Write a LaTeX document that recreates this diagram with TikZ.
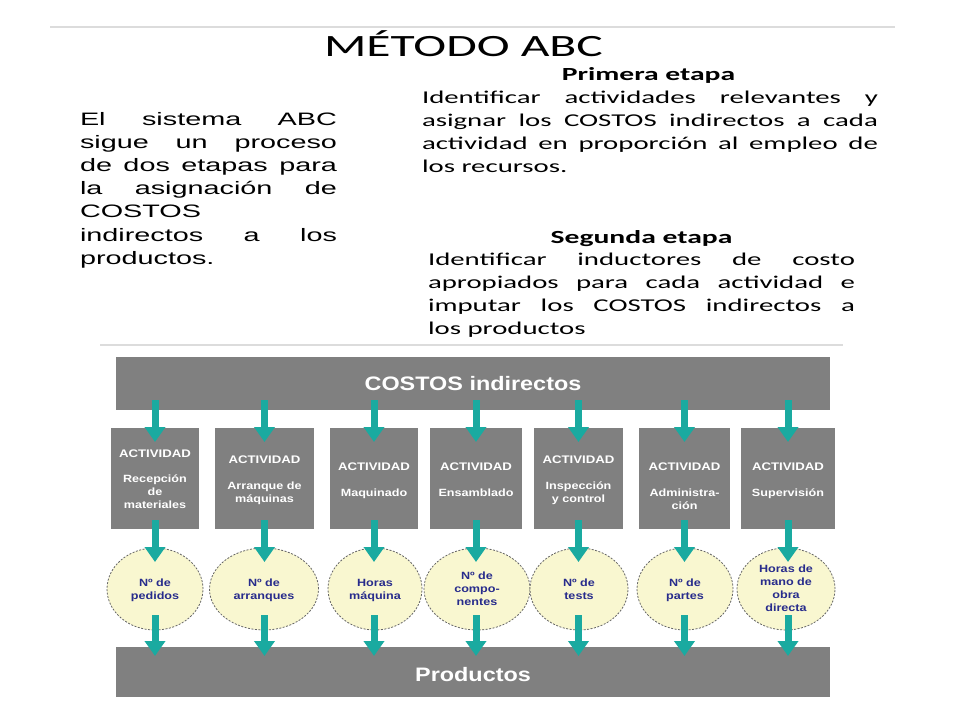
\documentclass[tikz,border=0pt]{standalone}
\usepackage{fontspec}
\usetikzlibrary{shapes.geometric,arrows.meta}
\newfontfamily\carl[FakeStretch=1.6]{Carlito}
\newfontfamily\arl[FakeStretch=1.6]{Liberation Sans}
\newfontfamily\ard[FakeStretch=1.2]{Liberation Sans}
\definecolor{tealA}{RGB}{26,170,160}
\definecolor{boxgray}{RGB}{128,128,128}
\definecolor{cream}{RGB}{249,247,208}
\definecolor{navy}{RGB}{40,44,140}
\definecolor{rulegray}{RGB}{220,220,220}
\tikzset{
  txt/.style={inner sep=0pt, outer sep=0pt},
  graybar/.style={fill=boxgray, draw=none, inner sep=0pt, outer sep=0pt, minimum width=714pt},
  bartxt/.style={txt, text=white, anchor=base, font=\ard\bfseries\fontsize{19.5}{23}\selectfont},
  actbox/.style={fill=boxgray, draw=none, inner sep=0pt, outer sep=0pt, minimum height=101pt},
  acttxt/.style={txt, text=white, anchor=base, font=\ard\bfseries\fontsize{10.5}{13}\selectfont},
  drv/.style={ellipse, fill=cream, draw=gray!80!black, dash pattern=on 2pt off 1.5pt, line width=0.8pt, minimum height=82pt, inner sep=0pt, outer sep=0pt},
  drvtxt/.style={txt, text=navy, anchor=base, font=\ard\bfseries\fontsize{10.5}{13}\selectfont},
  arr/.style={draw=tealA, line width=7pt, -{Triangle[length=15pt,width=20pt]}},
  rulel/.style={draw=rulegray, line width=2.5pt},
}
\newcommand{\actv}{{\fontsize{11}{13}\selectfont ACTIVIDAD}}
\begin{document}
\begin{tikzpicture}[x=1pt,y=-1pt]
\useasboundingbox[fill=white] (0,0) rectangle (960,720);
% top rule
\coordinate (r1a) at (50,27);
\coordinate (r1b) at (895,27);
\draw[rulel] (r1a) -- (r1b);
\node[txt, anchor=base, font=\carl\fontsize{31}{37}\selectfont] (title) at (463.5,56.7) {MÉTODO ABC};
% left paragraph
\node[txt, anchor=base west, font=\arl\fontsize{18}{23.2}\selectfont] (intro) at (80,125) {\begin{tabular}[t]{@{}l@{}}
\makebox[257pt][s]{El sistema ABC}\\
\makebox[257pt][s]{sigue un proceso}\\
\makebox[257pt][s]{de dos etapas para}\\
\makebox[257pt][s]{la asignación de}\\
COSTOS\\
\makebox[257pt][s]{indirectos a los}\\
productos.
\end{tabular}};
% primera etapa
\node[txt, anchor=base, font=\carl\bfseries\fontsize{18.5}{22}\selectfont] (et1) at (648.5,80.7) {Primera etapa};
\node[txt, anchor=base west, font=\carl\fontsize{18}{23.2}\selectfont] (p1) at (422,103.3) {\begin{tabular}[t]{@{}l@{}}
\makebox[456pt][s]{Identificar actividades relevantes y}\\
\makebox[456pt][s]{asignar los COSTOS indirectos a cada}\\
\makebox[456pt][s]{actividad en proporción al empleo de}\\
los recursos.
\end{tabular}};
% segunda etapa
\node[txt, anchor=base, font=\carl\bfseries\fontsize{18.5}{22}\selectfont] (et2) at (641.5,243) {Segunda etapa};
\node[txt, anchor=base west, font=\carl\fontsize{18}{23.3}\selectfont] (p2) at (428,265) {\begin{tabular}[t]{@{}l@{}}
\makebox[427pt][s]{Identificar inductores de costo}\\
\makebox[427pt][s]{apropiados para cada actividad e}\\
\makebox[427pt][s]{imputar los COSTOS indirectos a}\\
los productos
\end{tabular}};
% second rule
\coordinate (r2a) at (100,345);
\coordinate (r2b) at (843,345);
\draw[rulel, line width=2pt] (r2a) -- (r2b);
% bars
\node[graybar, minimum height=53pt] (costos) at (473,383.5) {};
\node[bartxt] (costosT) at ([yshift=-7.2pt]costos.center) {COSTOS indirectos};
\node[graybar, minimum height=50pt] (prod) at (473,672) {};
\node[bartxt] (prodT) at ([yshift=-9.7pt]prod.center) {Productos};
% activity boxes
\node[actbox, minimum width=88pt] (b1) at (155,478.5) {};
\node[actbox, minimum width=99pt] (b2) at (264.5,478.5) {};
\node[actbox, minimum width=88pt] (b3) at (374,478.5) {};
\node[actbox, minimum width=92pt] (b4) at (476,478.5) {};
\node[actbox, minimum width=89pt] (b5) at (578.5,478.5) {};
\node[actbox, minimum width=91pt] (b6) at (684.5,478.5) {};
\node[actbox, minimum width=94pt] (b7) at (788,478.5) {};
\node[acttxt] (t1) at (155,457.3) {\begin{tabular}[t]{@{}c@{}}\actv\\[12.4pt]Recepción\\de\\materiales\end{tabular}};
\node[acttxt] (t2) at (264.5,463.7) {\begin{tabular}[t]{@{}c@{}}\actv\\[13pt]Arranque de\\máquinas\end{tabular}};
\node[acttxt] (t3) at (374,470.7) {\begin{tabular}[t]{@{}c@{}}\actv\\[13pt]Maquinado\end{tabular}};
\node[acttxt] (t4) at (476,470.7) {\begin{tabular}[t]{@{}c@{}}\actv\\[13pt]Ensamblado\end{tabular}};
\node[acttxt] (t5) at (578.5,463.3) {\begin{tabular}[t]{@{}c@{}}\actv\\[13pt]Inspección\\y control\end{tabular}};
\node[acttxt] (t6) at (684.5,470.7) {\begin{tabular}[t]{@{}c@{}}\actv\\[13pt]Administra-\\ción\end{tabular}};
\node[acttxt] (t7) at (788,470.7) {\begin{tabular}[t]{@{}c@{}}\actv\\[13pt]Supervisión\end{tabular}};
% drivers
\node[drv, minimum width=96pt] (e1) at (155,589) {};
\node[drv, minimum width=109pt] (e2) at (264,589) {};
\node[drv, minimum width=94pt] (e3) at (375,589) {};
\node[drv, minimum width=106pt] (e4) at (477,589) {};
\node[drv, minimum width=98pt] (e5) at (579,589) {};
\node[drv, minimum width=96pt] (e6) at (685,589) {};
\node[drv, minimum width=98pt] (e7) at (786,589) {};
\node[drvtxt] (d1) at (155,586) {\begin{tabular}[t]{@{}c@{}}Nº de\\pedidos\end{tabular}};
\node[drvtxt] (d2) at (264,586) {\begin{tabular}[t]{@{}c@{}}Nº de\\arranques\end{tabular}};
\node[drvtxt] (d3) at (375,586) {\begin{tabular}[t]{@{}c@{}}Horas\\máquina\end{tabular}};
\node[drvtxt] (d4) at (477,579) {\begin{tabular}[t]{@{}c@{}}Nº de\\compo-\\nentes\end{tabular}};
\node[drvtxt] (d5) at (579,586) {\begin{tabular}[t]{@{}c@{}}Nº de\\tests\end{tabular}};
\node[drvtxt] (d6) at (685,586) {\begin{tabular}[t]{@{}c@{}}Nº de\\partes\end{tabular}};
\node[drvtxt] (d7) at (786,572) {\begin{tabular}[t]{@{}c@{}}Horas de\\mano de\\obra\\directa\end{tabular}};
% arrows
\foreach \k in {1,...,7}{
  \draw[arr] ([yshift=10pt]costos.south -| b\k) -- ([yshift=-14pt]b\k.north);
  \draw[arr] ([yshift=9pt]b\k.south) -- ([yshift=-14pt]e\k.north -| b\k);
  \draw[arr] ([yshift=15pt]e\k.south -| b\k) -- ([yshift=-9pt]prod.north -| b\k);
}
\end{tikzpicture}
\end{document}
